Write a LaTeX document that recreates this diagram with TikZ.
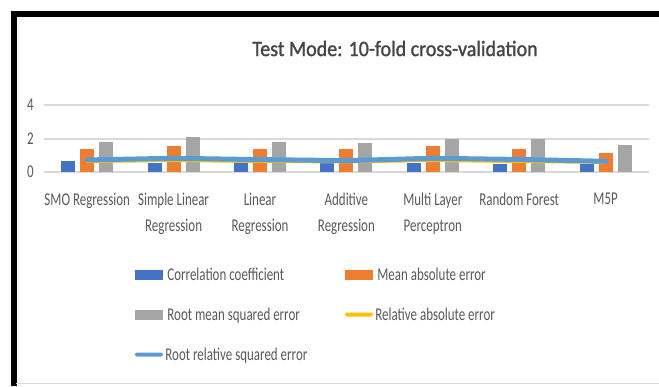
\documentclass[tikz,border=0pt]{standalone}
\usepackage{fontspec}
\setmainfont{Carlito}[FakeStretch=0.72]
\newfontfamily\titlefont{Carlito}[FakeStretch=0.91, FakeBold=1.2]
\usetikzlibrary{positioning}

\definecolor{corrc}{HTML}{4472C4}
\definecolor{maec}{HTML}{ED7D31}
\definecolor{rmsec}{HTML}{A5A5A5}
\definecolor{raec}{HTML}{FFC000}
\definecolor{rrsec}{HTML}{5B9BD5}
\definecolor{gridc}{HTML}{D9D9D9}
\definecolor{txtc}{HTML}{595959}
\definecolor{titlec}{HTML}{454545}

\begin{document}
\begin{tikzpicture}[
  x=1pt, y=-1pt,
  grid/.style={draw=gridc, line width=1.3pt},
  cbar/.style={fill=corrc},
  mbar/.style={fill=maec},
  rbar/.style={fill=rmsec},
  raeline/.style={draw=raec, line width=2.2pt, line cap=round, line join=round},
  rrseline/.style={draw=rrsec, line width=5pt, line cap=round, line join=round},
  lbl/.style={text=txtc, font=\fontsize{18}{26}\selectfont, inner sep=0pt, align=center},
  ltxt/.style={lbl, text height=13pt, text depth=2pt},
  swatch/.style={minimum width=28pt, minimum height=10pt, inner sep=0pt},
  lswatch/.style={minimum width=28pt, minimum height=4pt, inner sep=0pt, rounded corners=2pt}
]
  \useasboundingbox (0,0) rectangle (659,386);

  % frame
  \draw[line width=6pt] (13.5,386) -- (13.5,13.5) -- (659,13.5);
  \draw[gridc, line width=1pt] (16,383.5) -- (659,383.5);

  % title
  \node[text=titlec, font=\titlefont\fontsize{22}{26}\selectfont] (title) at (395,48.5) {Test Mode: 10-fold cross-validation};

  % grid and axis labels
  \draw[grid] (44,105) -- (649,105);
  \draw[grid] (44,139) -- (649,139);
  \draw[grid] (44,172) -- (649,172);
  \node[lbl, anchor=east] (t4) at (34,105) {4};
  \node[lbl, anchor=east] (t2) at (34,139) {2};
  \node[lbl, anchor=east] (t0) at (34,172) {0};

  % bars and lines
  \begin{scope}[yshift=-172pt, y=16.75pt]
    \fill[cbar] (61.2,0) rectangle (75.2,0.66);
    \fill[mbar] (80.2,0) rectangle (94.2,1.35);
    \fill[rbar] (99.2,0) rectangle (113.2,1.81);

    \fill[cbar] (147.6,0) rectangle (161.6,0.55);
    \fill[mbar] (166.6,0) rectangle (180.6,1.55);
    \fill[rbar] (185.6,0) rectangle (199.6,2.07);

    \fill[cbar] (234,0) rectangle (248,0.55);
    \fill[mbar] (253,0) rectangle (267,1.35);
    \fill[rbar] (272,0) rectangle (286,1.81);

    \fill[cbar] (320.4,0) rectangle (334.4,0.55);
    \fill[mbar] (339.4,0) rectangle (353.4,1.35);
    \fill[rbar] (358.4,0) rectangle (372.4,1.75);

    \fill[cbar] (406.8,0) rectangle (420.8,0.55);
    \fill[mbar] (425.8,0) rectangle (439.8,1.55);
    \fill[rbar] (444.8,0) rectangle (458.8,2.0);

    \fill[cbar] (493.2,0) rectangle (507.2,0.5);
    \fill[mbar] (512.2,0) rectangle (526.2,1.35);
    \fill[rbar] (531.2,0) rectangle (545.2,1.95);

    \fill[cbar] (579.6,0) rectangle (593.6,0.5);
    \fill[mbar] (598.6,0) rectangle (612.6,1.15);
    \fill[rbar] (617.6,0) rectangle (631.6,1.6);

    \draw[raeline] (87.2,0.6) -- (173.6,0.66) -- (260,0.6) -- (346.4,0.58)
      -- (432.8,0.66) -- (519.2,0.6) -- (605.6,0.55);
    \draw[rrseline] (87.2,0.72) -- (173.6,0.82) -- (260,0.74) -- (346.4,0.68)
      -- (432.8,0.82) -- (519.2,0.75) -- (605.6,0.64);
  \end{scope}

  % category labels
  \node[lbl, anchor=north] (c1) at (87.2,192.5) {SMO Regression};
  \node[lbl, anchor=north] (c2) at (173.6,192.5) {Simple Linear\\Regression};
  \node[lbl, anchor=north] (c3) at (260,192.5) {Linear\\Regression};
  \node[lbl, anchor=north] (c4) at (346.4,192.5) {Additive\\Regression};
  \node[lbl, anchor=north] (c5) at (432.8,192.5) {Multi Layer\\Perceptron};
  \node[lbl, anchor=north] (c6) at (519.2,192.5) {Random Forest};
  \node[lbl, anchor=north] (c7) at (605.6,192.5) {M5P};

  % legend
  \node[swatch, fill=corrc] (k1) at (149,274.5) {};
  \node[ltxt, anchor=west, right=4pt of k1] (n1) {Correlation coefficient};
  \node[swatch, fill=maec] (k2) at (359,274.5) {};
  \node[ltxt, anchor=west, right=4pt of k2] (n2) {Mean absolute error};
  \node[swatch, fill=rmsec] (k3) at (149,314.5) {};
  \node[ltxt, anchor=west, right=4pt of k3] (n3) {Root mean squared error};
  \node[lswatch, fill=raec] (k4) at (359,314.5) {};
  \node[ltxt, anchor=west, right=2pt of k4] (n4) {Relative absolute error};
  \node[lswatch, fill=rrsec] (k5) at (149,354.5) {};
  \node[ltxt, anchor=west, right=2pt of k5] (n5) {Root relative squared error};

\end{tikzpicture}
\end{document}
